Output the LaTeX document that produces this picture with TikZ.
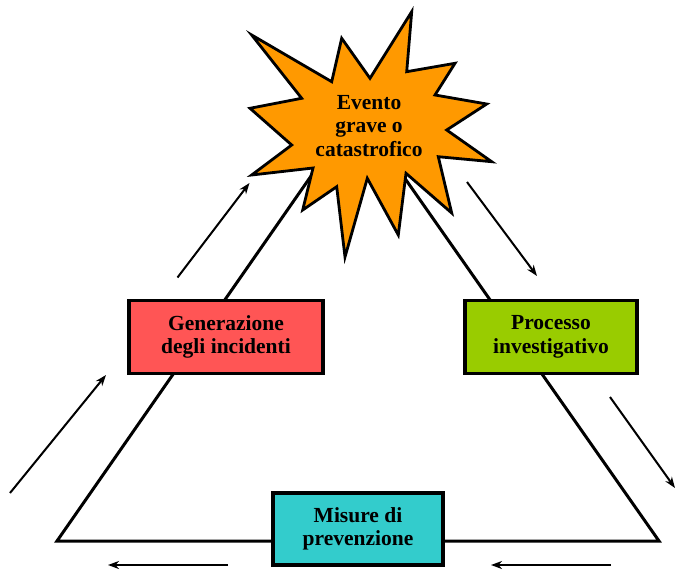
\documentclass[tikz,border=0pt]{standalone}
\usepackage{fontspec}
\setmainfont{Liberation Serif}
\usetikzlibrary{arrows.meta}
\definecolor{starorange}{HTML}{FF9900}
\definecolor{boxred}{HTML}{FF5555}
\definecolor{boxgreen}{HTML}{99CC00}
\definecolor{boxcyan}{HTML}{33CCCC}
\begin{document}
\begin{tikzpicture}[x=1pt,y=-1pt,
  lbl/.style={font=\fontsize{21.5}{23.5}\selectfont\bfseries, align=center, text=black},
  boxnode/.style={lbl, draw=black, line width=3.5pt, inner sep=0pt, minimum height=73pt},
  tri/.style={draw=black, line width=3pt, line join=miter},
  flow/.style={draw=black, line width=2pt, -{Stealth[length=11pt,width=8pt,inset=3.5pt]}},
  starshape/.style={draw=black, fill=starorange, line width=2.8pt, line join=miter}
]
\useasboundingbox (0,0) rectangle (675,570);
% triangle corners
\coordinate (BL) at (57,541);
\coordinate (BR) at (659,541);
\coordinate (apex) at (357,110);
\draw[tri] (apex) -- (BL) -- (BR) -- cycle;
% boxes
\node[boxnode, fill=boxred, minimum width=194pt] (gen) at (226,337) {Generazione\\degli incidenti};
\node[boxnode, fill=boxgreen, minimum width=172pt] (proc) at (551,337) {Processo\\investigativo};
\node[boxnode, fill=boxcyan, minimum width=170pt, minimum height=72pt] (mis) at (358,529) {Misure di\\prevenzione};
% star
\draw[starshape] (411.7,11.7) -- (406.7,71.7) -- (455,63.3) -- (435,95) -- (486.7,104)
  -- (446.7,130) -- (491.7,161.7) -- (438.3,156.7) -- (451.7,213) -- (406,173.3)
  -- (398.3,235) -- (367.3,178.3) -- (345,257) -- (336.7,186.7) -- (302.7,210)
  -- (313,168) -- (251.7,175) -- (291.7,145) -- (250,108.3) -- (301.7,98.3)
  -- (251.7,35) -- (331.7,81.7) -- (341.7,38.3) -- (370,78.3) -- cycle;
\node[lbl] (evt) at (369,126) {Evento\\grave o\\catastrofico};
% flow arrows
\coordinate (a1s) at (177.5,277.5); \coordinate (a1e) at (249.5,183);
\coordinate (a2s) at (467,182);     \coordinate (a2e) at (537,276);
\coordinate (a3s) at (610,397);     \coordinate (a3e) at (675,488);
\coordinate (a4s) at (611,565);     \coordinate (a4e) at (491,565);
\coordinate (a5s) at (228,565);     \coordinate (a5e) at (108,565);
\coordinate (a6s) at (10,493);      \coordinate (a6e) at (106,375);
\draw[flow] (a1s) -- (a1e);
\draw[flow] (a2s) -- (a2e);
\draw[flow] (a3s) -- (a3e);
\draw[flow] (a4s) -- (a4e);
\draw[flow] (a5s) -- (a5e);
\draw[flow] (a6s) -- (a6e);
\end{tikzpicture}
\end{document}
